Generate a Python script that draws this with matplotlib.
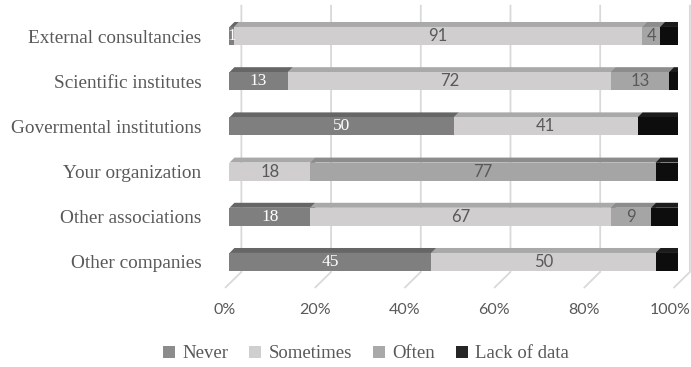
import numpy as np
import matplotlib.pyplot as plt
from matplotlib.patches import Polygon, Patch

# rows from bottom to top
categories = ["Other companies", "Other associations", "Your organization",
              "Govermental institutions", "Scientific institutes", "External consultancies"]
never = [45, 18, 0, 50, 13, 1]
sometimes = [50, 67, 18, 41, 72, 91]
often = [0, 9, 77, 0, 13, 4]
lack = [5, 6, 5, 9, 2, 4]
series_names = ["Never", "Sometimes", "Often", "Lack of data"]
tick_values = [0, 20, 40, 60, 80, 100]

series = [never, sometimes, often, lack]
# front, top, side shades for the 3d look
front_col = ["#7f7f7f", "#d0cece", "#a5a5a5", "#0d0d0d"]
top_col = ["#666666", "#a9a9a9", "#8c8c8c", "#1c1c1c"]
side_col = ["#5a5a5a", "#9a9a9a", "#7c7c7c", "#050505"]
legend_col = ["#8c8c8c", "#d0cece", "#a9a9a9", "#262626"]

serif = "Liberation Serif"
sans = "Lato"
gray = "#595959"

fig = plt.figure(figsize=(6.91, 3.67), dpi=100)
ax = fig.add_axes([225 / 691, 82.4 / 367, 453 / 691, 271.2 / 367])
ax.set_xlim(0, 100)
ax.set_ylim(-0.5, 5.5)
for s in ax.spines.values():
    s.set_visible(False)

h = 0.4          # bar height (rows)
dx, dy = 1.1, 0.11   # bar depth
gx = 2.65        # back wall offset in x
y_floor_back, y_floor_front, y_wall_top = -0.22, -0.575, 5.69

# back wall grid + floor lines
for t in tick_values:
    ax.plot([t + gx, t + gx, t - 1.0], [y_wall_top, y_floor_back, y_floor_front],
            color="#d9d9d9", lw=1.3, zorder=0, clip_on=False, solid_capstyle="butt")

y = np.arange(len(categories))
left = np.zeros(len(categories))
for j, vals in enumerate(series):
    vals = np.array(vals, dtype=float)
    ax.barh(y, vals, left=left, height=h, color=front_col[j], zorder=3 + 3 * j, lw=0)
    for i in range(len(y)):
        if vals[i] <= 0:
            continue
        x0, x1 = left[i], left[i] + vals[i]
        yb, yt = y[i] - h / 2, y[i] + h / 2
        ax.add_patch(Polygon([(x0, yt), (x1, yt), (x1 + dx, yt + dy), (x0 + dx, yt + dy)],
                             closed=True, fc=top_col[j], lw=0, zorder=2 + 3 * j))
        ax.add_patch(Polygon([(x1, yb), (x1 + dx, yb + dy), (x1 + dx, yt + dy), (x1, yt)],
                             closed=True, fc=side_col[j], lw=0, zorder=2 + 3 * j))
        if j < 3:
            if j == 0:
                ax.text((x0 + x1) / 2, y[i], f"{int(vals[i])}", ha="center", va="center",
                        color="white", fontsize=12.5, family=serif, zorder=20)
            else:
                ax.text((x0 + x1) / 2, y[i], f"{int(vals[i])}", ha="center", va="center",
                        color=gray, fontsize=12, family=sans, zorder=20)
    left = left + vals

ax.set_yticks(y, categories)
tick_pos = np.array(tick_values) - 1.0
tick_pos[-1] -= 0.7   # keep the last label inside the figure
ax.set_xticks(tick_pos, [f"{t}%" for t in tick_values])
ax.tick_params(axis="y", length=0, pad=17, labelsize=13.9, labelcolor=gray)
ax.tick_params(axis="x", length=0, pad=13, labelsize=11.5, labelcolor=gray)
for lab in ax.get_yticklabels():
    lab.set_family(serif)
for lab in ax.get_xticklabels():
    lab.set_family(sans)

handles = [Patch(fc=c, lw=0) for c in legend_col]
fig.legend(handles, series_names, loc="center", bbox_to_anchor=(366 / 691, 1 - 354 / 367),
           ncol=4, frameon=False, handlelength=0.65, handleheight=0.65, handletextpad=0.4,
           columnspacing=1.1, prop={"family": serif, "size": 13.5}, labelcolor=gray)

fig.savefig("out.png", dpi=100)
